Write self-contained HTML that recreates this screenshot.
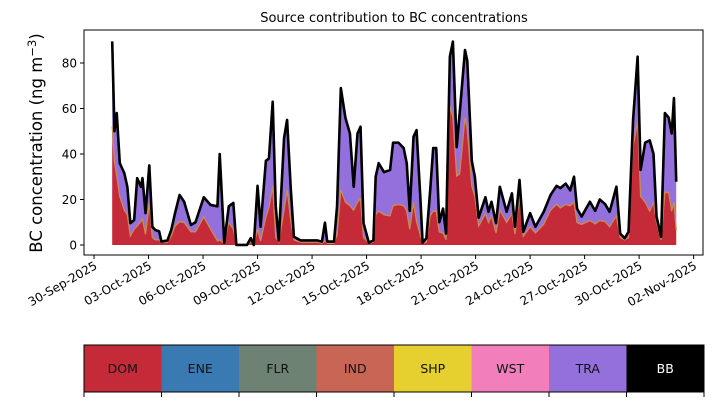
<!DOCTYPE html>
<html><head><meta charset="utf-8">
<style>
body{margin:0;background:#fff;font-family:"Liberation Sans","DejaVu Sans",sans-serif;}
svg text{font-family:"DejaVu Sans","Liberation Sans",sans-serif;}
</style></head>
<body>
<svg id="chart" width="714" height="402" viewBox="0 0 714 402" xmlns="http://www.w3.org/2000/svg">
<text x="394" y="22" text-anchor="middle" font-size="13">Source contribution to BC concentrations</text>
<text transform="translate(42,143) rotate(-90)" text-anchor="middle" font-size="16.5">BC concentration (ng m<tspan dy="-6" font-size="11.5">−3</tspan><tspan dy="6">)</tspan></text>
<g id="plot"></g>
<g id="axes"></g>
<g id="legend"></g>
</svg>
<script>
const hours=[0,3,6,10,16,20,24,29,33,38,40,44,49,53,57,62,65,73,78,83,89,95,104,110,121,130,139,142,148,154,160,164,178,183,187,192,196,203,207,212,216,220,227,231,236,240,249,262,271,277,281,284,293,297,302,308,314,319,324,328,332,339,345,348,352,359,367,371,378,385,389,393,398,402,407,410,415,420,424,428,432,437,441,446,450,455,459,466,469,475,479,484,493,497,501,507,512,521,528,532,538,543,552,559,570,579,587,592,599,605,610,614,620,631,638,644,651,657,666,671,677,682,688,694,698,704,710,715,719,725,730,735,739,742,745];
const totalBC=[89.5,50,58,36,31.6,25.6,9.6,11,29.4,25.6,29.4,14,35,8,6.6,6,1.5,2,6.6,14,22,19,8.8,10,21,17.6,17,40,1,17,18.5,0,0,3,0,26,8,37,38,63,17,2,47,55,24,3.6,2,2,2,1.5,9.8,1.5,1.5,17,69,56,49,25.6,49,52,9.6,1,2,30,36,32,33,45,45,42.6,36,15,47.6,50.5,21,1,3,24,42.6,42.6,10,16,5,82.8,89.4,43,58,85.7,81,37,30,12,21,14.6,19,9.6,25.6,14.6,22.7,8,28.6,5.8,14,8,14.6,22,26,25,27,24,30,16,12.5,19,15,20,18,14.6,25.6,5,3,5.8,55,82.8,33,45,46,40,12.5,3.6,58,56,49,64.6,27.8];
const domBC=[52,36,30,21,15,13,3.7,6.6,8,10,11,4.4,18,3,2,2,0.8,1,3.6,8,10,9.6,5.5,5.5,12,6.6,1.5,2,0.5,9.6,6.6,0,0,1,0,6.6,1.5,12,16,25.6,3,1,15,24,10,2,1,1,1,0.5,1.5,0.5,0.5,4,24,18.5,17,15,18.5,20,3,0.5,1,13,14.6,13,12.5,17,17.6,17,14.6,6.6,18.5,10,4,0.5,1,12.5,14.6,14.6,5.5,5,2,60.8,56,30,31,55.8,50.5,25.6,21,8,13.5,9.6,12.5,5,15,9.6,13.5,4.5,21,3.5,7.7,5,8.8,15,17.6,16,17.6,17,18.5,9.6,8.8,10.5,9,10.5,10,7.7,12.5,3,2,3,43,53.6,21,18.5,14.6,18.5,9.6,2,22.8,22.8,14.6,18.5,6];
const yTicks=[0,20,40,60,80];
const dateLabels=["30-Sep-2025","03-Oct-2025","06-Oct-2025","09-Oct-2025","12-Oct-2025","15-Oct-2025","18-Oct-2025","21-Oct-2025","24-Oct-2025","27-Oct-2025","30-Oct-2025","02-Nov-2025"];
const dateDays=[-1,2,5,8,11,14,17,20,23,26,29,32];
const sources=["DOM","ENE","FLR","IND","SHP","WST","TRA","BB"];
const srcColors=["#c52a38","#3a7ab2","#6e8273","#c96555","#e5d02f","#f27fbc","#9370db","#000000"];

const NS="http://www.w3.org/2000/svg";
const X0=84,X1=703,Y0=30,Y1=255;
const xDay=d=>112.2+d*18.17;
const xH=h=>xDay(h/24);
const yV=v=>245-v*2.275;
function mk(tag,attrs,parent){const e=document.createElementNS(NS,tag);for(const k in attrs)e.setAttribute(k,attrs[k]);parent.appendChild(e);return e;}
const plot=document.getElementById('plot'),axes=document.getElementById('axes'),leg=document.getElementById('legend');

function areaPath(lo,hi){let d='';hours.forEach((h,i)=>{d+=(i?'L':'M')+xH(h).toFixed(2)+','+yV(hi[i]).toFixed(2);});
for(let i=hours.length-1;i>=0;i--)d+='L'+xH(hours[i]).toFixed(2)+','+yV(lo[i]).toFixed(2);return d+'Z';}
const zeros=hours.map(()=>0);
const p1=mk('path',{d:areaPath(domBC,totalBC),fill:'#9370db',stroke:'none'},plot);


const p2=mk('path',{d:areaPath(zeros,domBC),fill:'#c52a38',stroke:'none'},plot);


let dl='';hours.forEach((h,i)=>{dl+=(i?'L':'M')+xH(h).toFixed(2)+','+(yV(domBC[i])-0.8).toFixed(2);});
const p3=mk('path',{d:dl,fill:'none',stroke:'#c98a55',"stroke-width":1.3},plot);


let tl='';hours.forEach((h,i)=>{tl+=(i?'L':'M')+xH(h).toFixed(2)+','+yV(totalBC[i]).toFixed(2);});
const p4=mk('path',{d:tl,fill:'none',stroke:'#000',"stroke-width":2.6,"stroke-linejoin":"round"},plot);



const fr=mk('rect',{x:X0,y:Y0,width:X1-X0,height:Y1-Y0,fill:'none',stroke:'#000','stroke-width':1},axes);


yTicks.forEach(v=>{const y=yV(v);
 mk('line',{x1:X0-4,x2:X0,y1:y,y2:y,stroke:'#000'},axes);
 const t=mk('text',{x:X0-7,y:y+4.5,'text-anchor':'end','font-size':12},axes);t.textContent=v;
 
 });
dateDays.forEach((d,i)=>{const x=xDay(d);
 mk('line',{x1:x,x2:x,y1:Y1,y2:Y1+4,stroke:'#000'},axes);
 const t=mk('text',{transform:`translate(${x+4},${Y1+13}) rotate(-30)`,'text-anchor':'end','font-size':12},axes);t.textContent=dateLabels[i];
 
 });

const LX=84,LW=620,LY=345,LH=47,cw=LW/sources.length;
sources.forEach((s,i)=>{
 const r=mk('rect',{x:LX+i*cw,y:LY,width:cw+0.5,height:LH,fill:srcColors[i]},leg);
 
 
 const t=mk('text',{x:LX+i*cw+cw/2,y:LY+LH/2+4.5,'text-anchor':'middle','font-size':12.5,fill:s==='BB'?'#fff':'#111'},leg);t.textContent=s;
 
 
});
for(let i=0;i<=sources.length;i++){const x=LX+i*cw;mk('line',{x1:x,x2:x,y1:LY+LH,y2:LY+LH+5,stroke:'#000'},leg);}
mk('rect',{x:LX,y:LY,width:LW,height:LH,fill:'none',stroke:'#000'},leg);
</script>
</body></html>
